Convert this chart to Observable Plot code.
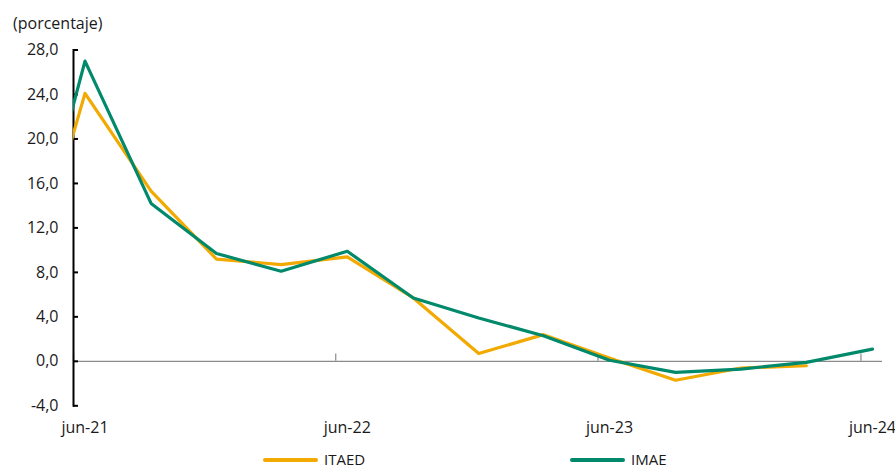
<!DOCTYPE html>
<html>
<head>
<meta charset="utf-8">
<script src="https://cdn.jsdelivr.net/npm/d3@7"></script>
<script src="https://cdn.jsdelivr.net/npm/@observablehq/plot@0.6"></script>
<style>
  html, body { margin: 0; padding: 0; background: #fff; }
  #wrap { position: relative; width: 895px; height: 470px; overflow: hidden; font-family: "Open Sans", sans-serif; color: #1a1a1a; }
  #unit { position: absolute; left: 13px; top: 12px; font-size: 16px; }
  #chart { position: absolute; left: 0; top: 0; }
  .leg { position: absolute; top: 452px; height: 15px; font-size: 15px; line-height: 15px; display: flex; align-items: center; }
  .sw { width: 55px; height: 4px; margin-right: 6px; border-radius: 2px; }
</style>
</head>
<body>
<div id="wrap">
  <div id="chart"></div>
  <div id="unit">(porcentaje)</div>
  <div class="leg" style="left:263px"><div class="sw" style="background:#F2A900"></div><span>ITAED</span></div>
  <div class="leg" style="left:570px"><div class="sw" style="background:#00896B"></div><span>IMAE</span></div>
</div>
<script>
// Quarterly observations (year-over-year % change)
const dates = ["2021-03-17","2021-06-17","2021-09-17","2021-12-17","2022-03-17","2022-06-17","2022-09-17","2022-12-17","2023-03-17","2023-06-17","2023-09-17","2023-12-17","2024-03-17","2024-06-17"];
const itaed = [3.5, 24.1, 15.3, 9.2, 8.7, 9.4, 5.7, 0.7, 2.4, 0.3, -1.7, -0.6, -0.4, null];
const imae  = [4.6, 27.0, 14.2, 9.7, 8.1, 9.9, 5.7, 3.9, 2.3, 0.1, -1.0, -0.7, -0.1, 1.1];

const xTickDates  = ["2021-06-01","2022-06-01","2023-06-01","2024-06-01"];
const xLabelDates = ["2021-06-17","2022-06-17","2023-06-17","2024-06-17"];
const xTickLabels = ["jun-21","jun-22","jun-23","jun-24"];
const yTicks = [-4, 0, 4, 8, 12, 16, 20, 24, 28];
const xDomain = ["2021-06-01","2024-07-01"];

const P = s => new Date(s + "T00:00:00Z");
const rowsItaed = dates.map((d, i) => ({date: P(d), value: itaed[i]})).filter(r => r.value != null);
const rowsImae  = dates.map((d, i) => ({date: P(d), value: imae[i]})).filter(r => r.value != null);
const labelMap = new Map(xLabelDates.map((d, i) => [+P(d), xTickLabels[i]]));

const chart = Plot.plot({
  width: 895,
  height: 445,
  marginLeft: 73,
  marginRight: 13,
  marginTop: 49.5,
  marginBottom: 39.7,
  style: {fontFamily: "Open Sans, sans-serif", fontSize: "16px", color: "#1a1a1a", background: "transparent"},
  x: {type: "utc", domain: xDomain.map(P)},
  y: {domain: [-4, 28]},
  marks: [
    Plot.ruleY([0], {stroke: "#8a8a8a", strokeWidth: 1.4}),
    Plot.ruleX(xTickDates.map(P), {x: d => d, y1: 0, y2: 0.65, stroke: "#8a8a8a", strokeWidth: 1.2}),
    Plot.axisX(xLabelDates.map(P), {anchor: "bottom", tickSize: 0, tickPadding: 16, label: null, tickFormat: d => labelMap.get(+d), fontSize: 16}),
    Plot.axisY(yTicks, {anchor: "left", tickSize: -5, tickPadding: 20, label: null, stroke: "black", strokeWidth: 2, tickFormat: d => d.toFixed(1).replace(".", ","), fontSize: 16}),
    Plot.frame({anchor: "left", stroke: "black", strokeWidth: 2}),
    Plot.line(rowsItaed, {x: "date", y: "value", stroke: "#F2A900", strokeWidth: 3.2, clip: true}),
    Plot.line(rowsImae, {x: "date", y: "value", stroke: "#00896B", strokeWidth: 3.2, clip: true})
  ]
});
document.getElementById("chart").appendChild(chart);
</script>
</body>
</html>
